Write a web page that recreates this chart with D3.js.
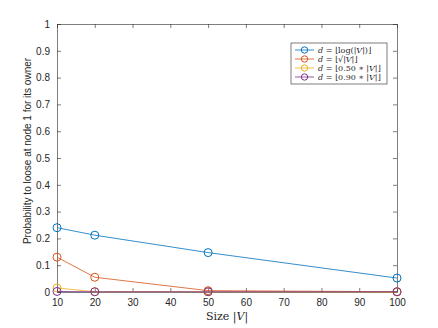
<!DOCTYPE html>
<html>
<head>
<meta charset="utf-8">
<script src="https://cdn.jsdelivr.net/npm/d3@7"></script>
<style>
  body { margin: 0; background: #fff; }
  .tick text { font-family: "Liberation Sans", Arial, sans-serif; font-size: 10px; fill: #262626; }
</style>
</head>
<body>
<div id="chart"></div>
<script>
// data
var sizes = [10, 20, 50, 100];
var logD = [0.240, 0.212, 0.147, 0.052];
var sqrtD = [0.130, 0.055, 0.005, 0.001];
var halfD = [0.015, 0.001, 0.001, 0.000];
var ninetyD = [0.002, 0.001, 0.001, 0.001];
var xTicks = [10, 20, 30, 40, 50, 60, 70, 80, 90, 100];
var yTicks = [0, 0.1, 0.2, 0.3, 0.4, 0.5, 0.6, 0.7, 0.8, 0.9, 1];

var series = [
  { values: logD, color: "#0072BD", label: ["⌊log(|", "V", "|)⌋"] },
  { values: sqrtD, color: "#D95319", label: ["⌊√|", "V", "|⌋"] },
  { values: halfD, color: "#EDB120", label: ["⌊0.50 ∗ |", "V", "|⌋"] },
  { values: ninetyD, color: "#7E2F8E", label: ["⌊0.90 ∗ |", "V", "|⌋"] }
];

var W = 438, H = 328;
var margin = { top: 24, right: 41, bottom: 36, left: 57 };
var width = W - margin.left - margin.right,
    height = H - margin.top - margin.bottom;

var svg = d3.select("#chart").append("svg")
    .attr("width", W)
    .attr("height", H);

var g = svg.append("g")
    .attr("transform", "translate(" + margin.left + "," + margin.top + ")");

var x = d3.scaleLinear().domain([10, 100]).range([0, width]);
var y = d3.scaleLinear().domain([0, 1]).range([height, 0]);

// axes (MATLAB style, ticks inside, box on)
var axColor = "#262626";
var xAxis = g.append("g").attr("transform", "translate(0," + height + ")")
    .call(d3.axisBottom(x).tickValues(xTicks).tickSizeInner(-4).tickSizeOuter(0).tickPadding(7));
var yAxis = g.append("g")
    .call(d3.axisLeft(y).tickValues(yTicks).tickSizeInner(-4).tickSizeOuter(0).tickPadding(7)
      .tickFormat(function(d) { return d === 0 || d === 1 ? d : d3.format(".1f")(d); }));
var xTop = g.append("g")
    .call(d3.axisTop(x).tickValues(xTicks).tickSizeInner(-4).tickSizeOuter(0).tickFormat(""));
var yRight = g.append("g").attr("transform", "translate(" + width + ",0)")
    .call(d3.axisRight(y).tickValues(yTicks).tickSizeInner(-4).tickSizeOuter(0).tickFormat(""));
[xAxis, yAxis, xTop, yRight].forEach(function(a) {
  a.selectAll("path, line").attr("stroke", axColor).attr("stroke-width", 0.6);
});

// lines and markers
var line = d3.line()
    .x(function(d, i) { return x(sizes[i]); })
    .y(function(d) { return y(d); });

series.forEach(function(s) {
  g.append("path")
      .datum(s.values)
      .attr("fill", "none")
      .attr("stroke", s.color)
      .attr("stroke-width", 0.8)
      .attr("d", line);
  g.selectAll(null)
      .data(s.values)
      .enter().append("circle")
      .attr("cx", function(d, i) { return x(sizes[i]); })
      .attr("cy", function(d) { return y(d); })
      .attr("r", 4)
      .attr("fill", "none")
      .attr("stroke", s.color)
      .attr("stroke-width", 1);
});

// axis labels
svg.append("text")
    .attr("transform", "translate(31,151) rotate(-90)")
    .attr("text-anchor", "middle")
    .style("font-family", "'Liberation Sans', Arial, sans-serif")
    .style("font-size", "10px")
    .style("fill", axColor)
    .text("Probability to loose at node 1 for its owner");

var xl = svg.append("text")
    .attr("x", margin.left + width / 2)
    .attr("y", 320)
    .attr("text-anchor", "middle")
    .style("font-family", "'DejaVu Serif', 'Liberation Serif', serif")
    .style("font-size", "11px")
    .style("fill", axColor);
xl.append("tspan").text("Size |");
xl.append("tspan").style("font-style", "italic").text("V");
xl.append("tspan").text("|");

// legend
var lg = g.append("g").attr("transform", "translate(234,19)");
lg.append("rect")
    .attr("width", 96).attr("height", 41)
    .attr("fill", "#fff")
    .attr("stroke", axColor)
    .attr("stroke-width", 0.6);
series.forEach(function(s, i) {
  var row = lg.append("g").attr("transform", "translate(0," + (7 + i * 9) + ")");
  row.append("line").attr("x1", 4).attr("x2", 23).attr("stroke", s.color).attr("stroke-width", 0.8);
  row.append("circle").attr("cx", 13.5).attr("r", 3.2).attr("fill", "none").attr("stroke", s.color);
  var t = row.append("text")
      .attr("x", 27).attr("dy", "0.33em")
      .style("font-family", "'DejaVu Serif', 'Liberation Serif', serif")
      .style("font-size", "8px")
      .style("fill", axColor);
  t.append("tspan").style("font-style", "italic").text("d");
  t.append("tspan").text(" = " + s.label[0]);
  t.append("tspan").style("font-style", "italic").text(s.label[1]);
  t.append("tspan").text(s.label[2]);
});
</script>
</body>
</html>
